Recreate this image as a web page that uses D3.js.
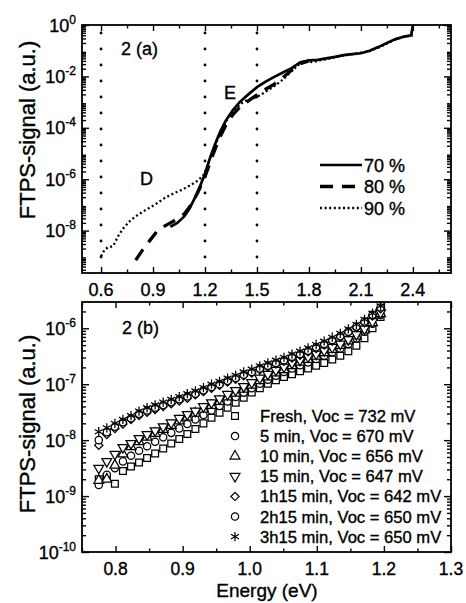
<!DOCTYPE html>
<html><head><meta charset="utf-8">
<script src="https://cdn.jsdelivr.net/npm/d3@7"></script>
<style>
html,body{margin:0;padding:0;background:#fff;}
svg{display:block;font-family:"Liberation Sans",Arial,sans-serif;}
svg text{fill:#000;stroke:#000;stroke-width:0.35px;}
</style></head>
<body>
<svg id="c" width="466" height="603"></svg>
<script>
// ---------- DATA: panel (a)  (signal given as log10 exponent) ----------
const aLegend = ["70 %", "80 %", "90 %"];
const aXTicks = [0.6, 0.9, 1.2, 1.5, 1.8, 2.1, 2.4];
const aYTicks = [0, -2, -4, -6, -8];
const aGuides = [0.6, 1.2, 1.5];
const aNotes = ["2 (a)", "E", "D"];

const s70E = [1.00,1.04,1.08,1.11,1.14,1.17,1.20,1.23,1.26,1.29,1.32,1.36,1.40,1.45,1.50,1.55,1.60,1.65,1.70,1.75,1.80,1.85,1.90,1.95,2.00,2.05,2.10,2.15,2.20,2.25,2.30,2.35,2.39,2.40];
const s70L = [-7.85,-7.70,-7.45,-7.15,-6.75,-6.30,-5.78,-5.15,-4.60,-4.12,-3.72,-3.32,-3.00,-2.70,-2.42,-2.20,-2.02,-1.85,-1.68,-1.45,-1.38,-1.36,-1.30,-1.24,-1.17,-1.13,-1.10,-1.00,-0.86,-0.70,-0.55,-0.45,-0.40,-0.02];

const s80E = [0.80,0.84,0.88,0.92,0.96,1.00,1.04,1.08,1.12,1.16,1.20,1.24,1.28,1.32,1.36,1.40,1.45,1.50,1.55,1.60,1.65,1.70,1.75,1.80];
const s80L = [-9.15,-8.75,-8.40,-8.05,-7.85,-7.70,-7.55,-7.35,-7.00,-6.50,-5.90,-5.15,-4.45,-3.90,-3.50,-3.20,-2.95,-2.72,-2.50,-2.30,-2.05,-1.75,-1.50,-1.40];

const s90E = [0.60,0.62,0.64,0.67,0.70,0.73,0.77,0.82,0.87,0.92,0.97,1.02,1.07,1.12,1.16,1.19,1.21,1.24,1.27,1.30,1.33,1.37,1.41,1.45,1.50,1.55,1.60,1.65,1.70,1.74,1.78,1.82,1.86,1.90,1.95,2.00,2.05,2.10,2.15,2.20,2.25,2.30,2.35,2.40];
const s90L = [-9.00,-8.75,-8.65,-8.60,-8.20,-7.90,-7.60,-7.35,-7.15,-6.95,-6.72,-6.55,-6.40,-6.22,-6.05,-5.85,-5.55,-5.00,-4.50,-4.05,-3.65,-3.30,-3.05,-2.90,-2.80,-2.60,-2.38,-2.12,-1.80,-1.55,-1.40,-1.45,-1.38,-1.33,-1.26,-1.18,-1.14,-1.08,-1.02,-0.88,-0.72,-0.56,-0.46,-0.40];

// ---------- DATA: panel (b)  (signal given as log10 exponent) ----------
const bXTicks = [0.8, 0.9, 1.0, 1.1, 1.2, 1.3];
const bYTicks = [-6, -7, -8, -9, -10];
const bLegend = ["Fresh, Voc = 732 mV","5 min, Voc = 670 mV","10 min, Voc = 656 mV","15 min, Voc = 647 mV","1h15 min, Voc = 642 mV","2h15 min, Voc = 650 mV","3h15 min, Voc = 650 mV"];
const bEnergy = [0.775,0.787,0.799,0.811,0.823,0.835,0.847,0.859,0.871,0.883,0.895,0.907,0.919,0.931,0.943,0.955,0.967,0.979,0.991,1.003,1.015,1.027,1.039,1.051,1.063,1.075,1.087,1.099,1.111,1.123,1.135,1.147,1.159,1.171,1.183,1.195];
const bFresh = [-8.70,-8.66,-8.78,-8.55,-8.47,-8.40,-8.32,-8.24,-8.15,-8.06,-7.98,-7.89,-7.80,-7.70,-7.60,-7.51,-7.42,-7.33,-7.24,-7.15,-7.07,-6.99,-6.93,-6.87,-6.82,-6.77,-6.72,-6.67,-6.62,-6.56,-6.49,-6.41,-6.31,-6.18,-6.00,-5.80];
const b5min = [-8.80,-8.62,-8.50,-8.38,-8.28,-8.19,-8.11,-8.03,-7.95,-7.87,-7.79,-7.71,-7.63,-7.55,-7.47,-7.39,-7.31,-7.23,-7.15,-7.07,-6.99,-6.92,-6.85,-6.78,-6.72,-6.66,-6.61,-6.55,-6.49,-6.43,-6.36,-6.28,-6.18,-6.06,-5.92,-5.76];
const b10min = [-8.72,-8.70,-8.45,-8.25,-8.12,-8.03,-7.95,-7.88,-7.81,-7.74,-7.66,-7.59,-7.52,-7.45,-7.38,-7.31,-7.23,-7.16,-7.09,-7.02,-6.94,-6.87,-6.80,-6.74,-6.67,-6.61,-6.56,-6.50,-6.44,-6.38,-6.31,-6.23,-6.14,-6.03,-5.90,-5.74];
const b15min = [-8.50,-8.38,-8.25,-8.13,-8.06,-7.97,-7.90,-7.83,-7.76,-7.69,-7.61,-7.54,-7.48,-7.40,-7.33,-7.26,-7.18,-7.11,-7.04,-6.97,-6.89,-6.82,-6.75,-6.69,-6.62,-6.57,-6.51,-6.46,-6.40,-6.34,-6.28,-6.20,-6.11,-6.01,-5.88,-5.72];
const b1h15 = [-8.09,-7.90,-7.79,-7.71,-7.63,-7.56,-7.50,-7.45,-7.40,-7.35,-7.30,-7.25,-7.19,-7.13,-7.07,-7.02,-6.96,-6.91,-6.85,-6.80,-6.74,-6.69,-6.64,-6.59,-6.53,-6.48,-6.42,-6.36,-6.30,-6.23,-6.16,-6.08,-5.99,-5.90,-5.78,-5.65];
const b2h15 = [-8.00,-7.86,-7.76,-7.68,-7.61,-7.53,-7.47,-7.42,-7.37,-7.32,-7.27,-7.22,-7.17,-7.11,-7.05,-7.00,-6.94,-6.89,-6.83,-6.78,-6.72,-6.67,-6.62,-6.57,-6.51,-6.46,-6.40,-6.34,-6.28,-6.21,-6.14,-6.06,-5.97,-5.88,-5.76,-5.63];
const b3h15 = [-7.85,-7.78,-7.70,-7.63,-7.56,-7.48,-7.42,-7.37,-7.32,-7.27,-7.22,-7.17,-7.12,-7.06,-7.00,-6.95,-6.89,-6.84,-6.78,-6.73,-6.67,-6.62,-6.57,-6.52,-6.46,-6.41,-6.35,-6.29,-6.23,-6.16,-6.09,-6.01,-5.93,-5.84,-5.73,-5.60];

// ---------- DRAW ----------
const svg = d3.select("#c");
const toVal = e => Math.pow(10, e);

const left = 82, right = 451;
const xA = d3.scaleLinear().domain([0.49, 2.62]).range([left, right]);
const yA = d3.scaleLog().domain([toVal(-9.65), 1]).range([273, 25]);
const xB = d3.scaleLinear().domain([0.75, 1.3]).range([left, right]);
const yB = d3.scaleLog().domain([toVal(-10), toVal(-5.53)]).range([552, 302]);

function minorLog(dom) {
  const lo = Math.floor(Math.log10(dom[0])), hi = Math.ceil(Math.log10(dom[1]));
  const out = [];
  for (let n = lo; n <= hi; n++) for (let k = 2; k <= 9; k++) {
    const v = k * Math.pow(10, n);
    if (v > dom[0] && v < dom[1]) out.push(v);
  }
  return out;
}

function frame(x, y, xMajor, xMinor, yMajor) {
  const [x0, x1] = x.range(), [y0, y1] = y.range();
  const g = svg.append("g");
  const minorY = minorLog(y.domain());
  const styleAxis = sel => { sel.select(".domain").remove(); sel.selectAll("line").attr("stroke","#000").attr("stroke-width",1.4); sel.selectAll("text").remove(); };
  g.append("g").attr("transform",`translate(0,${y0})`).call(d3.axisBottom(x).tickValues(xMajor).tickSize(-6)).call(styleAxis);
  g.append("g").attr("transform",`translate(0,${y0})`).call(d3.axisBottom(x).tickValues(xMinor).tickSize(-3.5)).call(styleAxis);
  g.append("g").attr("transform",`translate(0,${y1})`).call(d3.axisTop(x).tickValues(xMajor).tickSize(-6)).call(styleAxis);
  g.append("g").attr("transform",`translate(0,${y1})`).call(d3.axisTop(x).tickValues(xMinor).tickSize(-3.5)).call(styleAxis);
  g.append("g").attr("transform",`translate(${x0},0)`).call(d3.axisLeft(y).tickValues(yMajor.map(toVal)).tickSize(-7)).call(styleAxis);
  g.append("g").attr("transform",`translate(${x0},0)`).call(d3.axisLeft(y).tickValues(minorY).tickSize(-4)).call(styleAxis);
  g.append("g").attr("transform",`translate(${x1},0)`).call(d3.axisRight(y).tickValues(yMajor.map(toVal)).tickSize(-7)).call(styleAxis);
  g.append("g").attr("transform",`translate(${x1},0)`).call(d3.axisRight(y).tickValues(minorY).tickSize(-4)).call(styleAxis);
  g.append("rect").attr("x",x0).attr("y",y1).attr("width",x1-x0).attr("height",y0-y1)
    .attr("fill","none").attr("stroke","#000").attr("stroke-width",1.8);
  yMajor.forEach(e => {
    const t = g.append("text").attr("x", x0 - 6).attr("y", y(toVal(e)) + 6.5)
      .attr("text-anchor","end").attr("font-size",18);
    t.append("tspan").text("10");
    t.append("tspan").attr("dy",-8).attr("font-size",12).text(String(e));
  });
}

function xLabels(x, ticks, yBase, fmt) {
  svg.append("g").selectAll("text").data(ticks).join("text")
    .attr("x", d => x(d)).attr("y", yBase).attr("text-anchor","middle")
    .attr("font-size",18).text(fmt);
}

// ---- panel (a)
const aMinor = [0.75, 1.05, 1.35, 1.65, 1.95, 2.25, 2.55];
frame(xA, yA, aXTicks, aMinor, aYTicks);
xLabels(xA, aXTicks, 296, d3.format(".1f"));

svg.append("g").selectAll("line").data(aGuides).join("line")
  .attr("x1", d => xA(d)).attr("x2", d => xA(d)).attr("y1", 33).attr("y2", 260)
  .attr("stroke","#000").attr("stroke-width",2.8).attr("stroke-linecap","round").attr("stroke-dasharray","0,16");

const lineA = d3.line().x(d => xA(d[0])).y(d => yA(toVal(d[1])));
const zip = (a, b) => a.map((v, i) => [v, b[i]]);
const aStyles = [
  {w:2.7, dash:null},
  {w:3.3, dash:"13,9"},
  {w:2.3, dash:"2,2.6"}
];
svg.append("path").datum(zip(s90E, s90L)).attr("d", lineA).attr("fill","none").attr("stroke","#000").attr("stroke-width",aStyles[2].w).attr("stroke-dasharray",aStyles[2].dash);
svg.append("path").datum(zip(s80E, s80L)).attr("d", lineA).attr("fill","none").attr("stroke","#000").attr("stroke-width",aStyles[1].w).attr("stroke-dasharray",aStyles[1].dash);
svg.append("path").datum(zip(s70E, s70L)).attr("d", lineA).attr("fill","none").attr("stroke","#000").attr("stroke-width",aStyles[0].w);

const legA = svg.append("g");
aLegend.forEach((name, i) => {
  const yy = 165 + i * 21.5;
  legA.append("line").attr("x1",320).attr("x2",362).attr("y1",yy).attr("y2",yy)
    .attr("stroke","#000").attr("stroke-width",aStyles[i].w).attr("stroke-dasharray",aStyles[i].dash);
  legA.append("text").attr("x",364).attr("y",yy+6.5).attr("font-size",18).text(name);
});
svg.append("text").attr("x",121).attr("y",55).attr("font-size",18).text(aNotes[0]);
svg.append("text").attr("x",224).attr("y",99).attr("font-size",18).text(aNotes[1]);
svg.append("text").attr("x",140).attr("y",185).attr("font-size",18).text(aNotes[2]);

svg.append("text").attr("transform","rotate(-90)").attr("x",-130).attr("y",35)
  .attr("text-anchor","middle").attr("font-size",22).text("FTPS-signal (a.u.)");

// ---- panel (b)
const bMinor = [0.75,0.85,0.95,1.05,1.15,1.25];
frame(xB, yB, bXTicks, bMinor, bYTicks);
svg.append("g").selectAll("text").data(bXTicks).join("text")
  .attr("x", d => xB(d)).attr("y", 575).attr("text-anchor","middle")
  .attr("font-size",17.5).text(d3.format(".1f"));

const symTri = d3.symbol().type(d3.symbolTriangle).size(42)();
const markers = [
  {path: d3.symbol().type(d3.symbolSquare).size(46)(), rot:0, fill:"#fff"},
  {path: d3.symbol().type(d3.symbolCircle).size(42)(), rot:0, fill:"#fff"},
  {path: symTri, rot:0, fill:"#fff"},
  {path: symTri, rot:180, fill:"#fff"},
  {path: d3.symbol().type(d3.symbolSquare).size(34)(), rot:45, fill:"#fff"},
  {path: d3.symbol().type(d3.symbolCircle).size(42)(), rot:0, fill:"#fff"},
  {path: d3.symbol().type(d3.symbolAsterisk).size(60)(), rot:0, fill:"none"}
];
const bSeries = [bFresh, b5min, b10min, b15min, b1h15, b2h15, b3h15];
bSeries.forEach((vals, si) => {
  const m = markers[si];
  svg.append("g").selectAll("path").data(zip(bEnergy, vals)).join("path")
    .attr("d", m.path)
    .attr("transform", d => `translate(${xB(d[0])},${yB(toVal(d[1]))}) rotate(${m.rot})`)
    .attr("fill", m.fill).attr("stroke","#000").attr("stroke-width",1.25);
});

const legB = svg.append("g");
bLegend.forEach((name, i) => {
  const yy = 416 + i * 20.1;
  const m = markers[i];
  legB.append("path").attr("d", m.path).attr("transform",`translate(235,${yy}) rotate(${m.rot})`)
    .attr("fill", m.fill).attr("stroke","#000").attr("stroke-width",1.2);
  legB.append("text").attr("x",260).attr("y",yy+6).attr("font-size",16.6).text(name);
});
svg.append("text").attr("x",122).attr("y",334).attr("font-size",18).text("2 (b)");

svg.append("text").attr("transform","rotate(-90)").attr("x",-424).attr("y",35)
  .attr("text-anchor","middle").attr("font-size",22).text("FTPS-signal (a.u.)");
svg.append("text").attr("x",267).attr("y",597).attr("text-anchor","middle").attr("font-size",19).text("Energy (eV)");
</script>
</body></html>
